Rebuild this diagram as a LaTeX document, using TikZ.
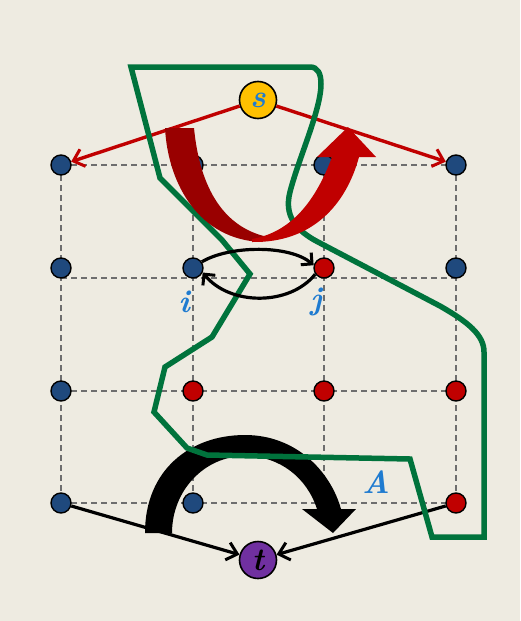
\documentclass[tikz,border=0pt]{standalone}
\usetikzlibrary{arrows.meta}
\definecolor{bgc}{HTML}{EEEBE1}
\definecolor{nblue}{HTML}{1F497D}
\definecolor{nred}{HTML}{C00000}
\definecolor{dred}{HTML}{990000}
\definecolor{ngreen}{HTML}{00733C}
\definecolor{lblue}{HTML}{1F7BD0}
\definecolor{npurple}{HTML}{7030A0}
\definecolor{nyellow}{HTML}{FFC000}
\definecolor{gridc}{HTML}{6E6E6E}
\tikzset{
  vtx/.style={circle,draw=black,line width=1.4pt,minimum size=20pt,inner sep=0pt},
  bigvtx/.style={circle,draw=black,line width=1.6pt,minimum size=37pt,inner sep=0pt,font=\fontsize{32}{32}\selectfont\bfseries\itshape},
  gridline/.style={draw=gridc,line width=1.2pt,dash pattern=on 6pt off 4pt},
  redline/.style={draw=nred,line width=3.4pt,-{Straight Barb[length=10pt,width=18pt,line width=3pt]}},
  blackline/.style={draw=black,line width=3.2pt,-{Straight Barb[length=10pt,width=18pt,line width=3pt]}},
  ellarrow/.style={draw=black,line width=3.2pt,-{Straight Barb[length=8pt,width=16pt,line width=3pt]}},
  lbl/.style={text=lblue,font=\fontsize{32}{32}\selectfont\bfseries\itshape,inner sep=0pt},
  cutline/.style={draw=ngreen,line width=5.5pt,line join=miter}
}
\begin{document}
\begin{tikzpicture}[x=1pt,y=-1pt]
\fill[bgc] (0,0) rectangle (520,621);
\useasboundingbox (0,0) rectangle (520,621);

% grid coordinates
\coordinate (h1l) at (61,165); \coordinate (h1r) at (456,165);
\coordinate (h2l) at (61,278); \coordinate (h2r) at (456,278);
\coordinate (h3l) at (61,391); \coordinate (h3r) at (456,391);
\coordinate (h4l) at (61,503); \coordinate (h4r) at (456,503);
\foreach \x/\n in {61/1,193/2,324/3,456/4}{
  \coordinate (vt\n) at (\x,165); \coordinate (vb\n) at (\x,503);
}
\draw[gridline] (h1l) -- (h1r);
\draw[gridline] (h2l) -- (h2r);
\draw[gridline] (h3l) -- (h3r);
\draw[gridline] (h4l) -- (h4r);
\foreach \n in {1,2,3,4}{ \draw[gridline] (vt\n) -- (vb\n); }

% vertices
\node[vtx,fill=nblue] (a1) at (61,165) {};
\node[vtx,fill=nblue] (a2) at (193,165) {};
\node[vtx,fill=nblue] (a3) at (324,165) {};
\node[vtx,fill=nblue] (a4) at (456,165) {};
\node[vtx,fill=nblue] (b1) at (61,268) {};
\node[vtx,fill=nblue] (b2) at (193,268) {};
\node[vtx,fill=nred]  (b3) at (324,268) {};
\node[vtx,fill=nblue] (b4) at (456,268) {};
\node[vtx,fill=nblue] (c1) at (61,391) {};
\node[vtx,fill=nred]  (c2) at (193,391) {};
\node[vtx,fill=nred]  (c3) at (324,391) {};
\node[vtx,fill=nred]  (c4) at (456,391) {};
\node[vtx,fill=nblue] (d1) at (61,503) {};
\node[vtx,fill=nblue] (d2) at (193,503) {};
\node[vtx,fill=nred]  (d4) at (456,503) {};

\node[bigvtx,fill=nyellow,text=lblue] (s) at (258,100) {s};
\node[bigvtx,fill=npurple,text=black] (t) at (258,560) {t};

% straight arrows
\draw[redline] (s) -- (a1);
\draw[redline] (s) -- (a4);
\draw[blackline] (d1) -- (t);
\draw[blackline] (d4) -- (t);

% big black arrow
\fill[black] (145,533) .. controls (145,470) and (190,435) .. (245,435)
  .. controls (295,435) and (330,470) .. (341,509) -- (356,509) -- (333,533) -- (302,509) -- (317,509)
  .. controls (307,478) and (280,456) .. (245,456)
  .. controls (205,456) and (172,490) .. (172,533) -- cycle;

% green cut
\draw[cutline] (131,67) -- (310,67) .. controls (318,67) and (321,74) .. (321,84)
  .. controls (321,110) and (298,160) .. (290,192)
  .. controls (284,215) and (295,230) .. (318,242)
  -- (440,306) .. controls (468,322) and (484,335) .. (484,352)
  -- (484,537) -- (432,537) -- (410,459) -- (207,455) -- (187,448)
  -- (154,412) -- (165,367) -- (212,337) -- (250,274) -- (222,240) -- (160,178) -- cycle;

% big red arrow
\fill[dred] (165,128) -- (194,128) .. controls (200,190) and (225,228) .. (268,237)
  -- (262,242) .. controls (200,240) and (168,185) .. (165,128) -- cycle;
\fill[nred] (252,239) .. controls (292,232) and (316,200) .. (332,157) -- (317,157) -- (348,127)
  -- (376,157) -- (359,157) .. controls (346,205) and (312,243) .. (252,242) -- cycle;

% i-j arrows
\draw[ellarrow] (b2.35) .. controls (230,245) and (290,245) .. (b3.165);
\draw[ellarrow] (b3.215) .. controls (290,306) and (230,306) .. (b2.-25);

% labels
\node[lbl] (li) at (184,302) {i};
\node[lbl] (lj) at (316,302) {j};
\node[lbl] (lA) at (376,482) {A};
\end{tikzpicture}
\end{document}
